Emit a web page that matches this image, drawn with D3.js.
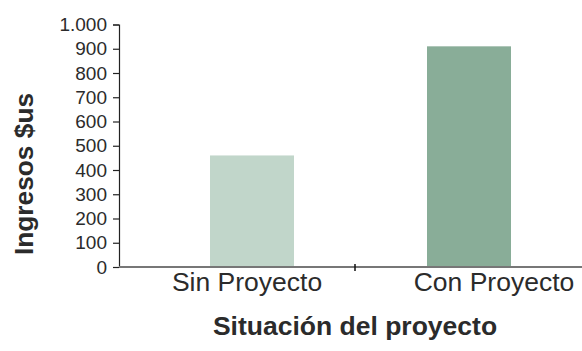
<!DOCTYPE html>
<html>
<head>
<meta charset="utf-8">
<script src="https://cdn.jsdelivr.net/npm/d3@7"></script>
<style>
  body { margin: 0; background: #fff; }
  text { font-family: "Liberation Sans", Arial, sans-serif; fill: #2b2b2b; }
</style>
</head>
<body>
<div id="chart"></div>
<script>
var width = 582;
var height = 351;

// data
var categorias = ["Sin Proyecto", "Con Proyecto"];
var ingresos = [460, 910];
var colores = ["#c1d6ca", "#89ad98"];
var yTicks = [0, 100, 200, 300, 400, 500, 600, 700, 800, 900, 1000];

var svg = d3.select("#chart")
  .append("svg")
  .attr("width", width)
  .attr("height", height);

var locale = d3.formatLocale({ decimal: ",", thousands: ".", grouping: [3], currency: ["$", ""] });
var fmt = locale.format(",d");

var y = d3.scaleLinear().domain([0, 1000]).range([267, 24.5]);

// bars scale
var xBar = d3.scaleBand()
  .domain(categorias)
  .range([143.5, 577.5])
  .paddingInner(0.613)
  .paddingOuter(0.3065);

// axis scale (full width)
var xAxisScale = d3.scaleBand()
  .domain(categorias)
  .range([119, 591]);

svg.selectAll("rect.bar")
  .data(categorias)
  .enter()
  .append("rect")
  .attr("class", "bar")
  .attr("x", function(d){ return xBar(d); })
  .attr("width", xBar.bandwidth())
  .attr("y", function(d, i){ return y(ingresos[i]); })
  .attr("height", function(d, i){ return y(0) - y(ingresos[i]); })
  .attr("fill", function(d, i){ return colores[i]; });

// y axis
var yAxis = svg.append("g")
  .attr("transform", "translate(119,0)")
  .call(d3.axisLeft(y).tickValues(yTicks).tickFormat(fmt).tickSize(6).tickPadding(6));
yAxis.select(".domain").attr("stroke", "#222").attr("stroke-width", 1.2);
yAxis.selectAll(".tick line").attr("stroke", "#222").attr("stroke-width", 1.2);
yAxis.selectAll(".tick text")
  .style("font-size", "19px")
  .style("font-family", "Liberation Sans, Arial, sans-serif")
  .attr("fill", "#2b2b2b");

// x axis line
svg.append("line")
  .attr("x1", xAxisScale.range()[0])
  .attr("x2", xAxisScale.range()[1])
  .attr("y1", y(0))
  .attr("y2", y(0))
  .attr("stroke", "#777")
  .attr("stroke-width", 2);

// middle tick between categories
svg.append("line")
  .attr("x1", xAxisScale(categorias[1]))
  .attr("x2", xAxisScale(categorias[1]))
  .attr("y1", y(0) - 3)
  .attr("y2", y(0) + 4)
  .attr("stroke", "#111")
  .attr("stroke-width", 1.5);

// category labels
var labelShift = [10, 21];
svg.selectAll("text.cat")
  .data(categorias)
  .enter()
  .append("text")
  .attr("class", "cat")
  .attr("x", function(d, i){ return xAxisScale(d) + xAxisScale.bandwidth() / 2 + labelShift[i]; })
  .attr("y", 291)
  .attr("text-anchor", "middle")
  .style("font-size", "26.5px")
  .text(function(d){ return d; });

// axis titles
svg.append("text")
  .attr("x", 355)
  .attr("y", 335)
  .attr("text-anchor", "middle")
  .style("font-size", "26.5px")
  .style("font-weight", "bold")
  .text("Situación del proyecto");

svg.append("text")
  .attr("transform", "translate(33,174) rotate(-90)")
  .attr("text-anchor", "middle")
  .style("font-size", "26.3px")
  .style("font-weight", "bold")
  .text("Ingresos $us");
</script>
</body>
</html>
